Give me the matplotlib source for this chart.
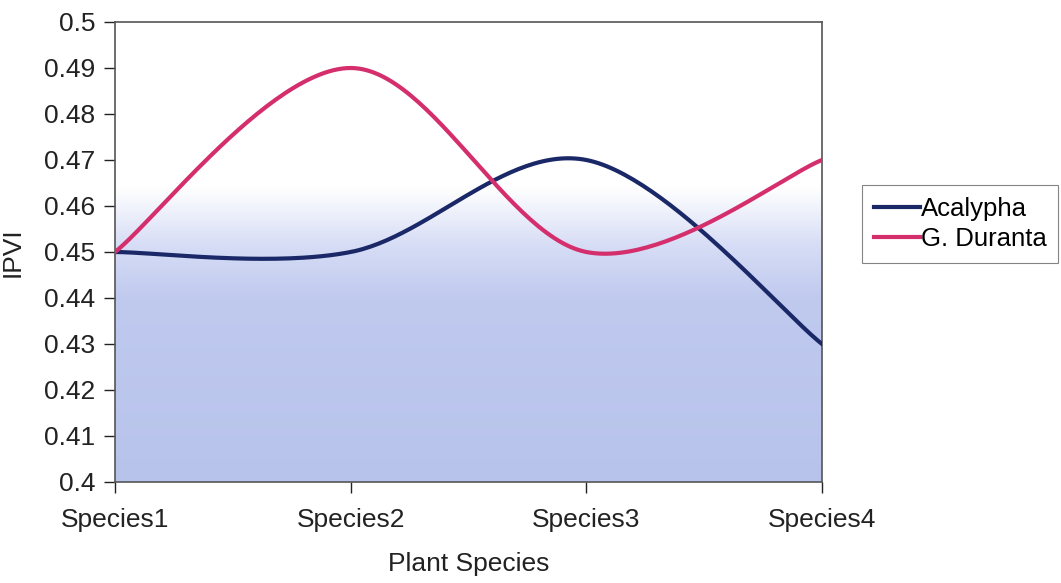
import numpy as np
import matplotlib.pyplot as plt
from matplotlib.colors import LinearSegmentedColormap

plt.rcParams['font.family'] = ['Liberation Sans', 'DejaVu Sans']

categories = ['Species1', 'Species2', 'Species3', 'Species4']
acalypha = [0.45, 0.45, 0.47, 0.43]
duranta = [0.45, 0.49, 0.45, 0.47]


def smooth(ys, n=60):
    # Excel-style smoothed line (Catmull-Rom as cubic bezier)
    x = np.arange(len(ys), dtype=float)
    y = np.array(ys, dtype=float)
    px = np.concatenate([[x[0]], x, [x[-1]]])
    py = np.concatenate([[y[0]], y, [y[-1]]])
    outx, outy = [], []
    t = np.linspace(0, 1, n)
    for i in range(len(ys) - 1):
        p0 = np.array([px[i + 1], py[i + 1]])
        p3 = np.array([px[i + 2], py[i + 2]])
        p1 = p0 + (p3 - np.array([px[i], py[i]])) / 6
        p2 = p3 - (np.array([px[i + 3], py[i + 3]]) - p0) / 6
        b = ((1 - t) ** 3)[:, None] * p0 + (3 * (1 - t) ** 2 * t)[:, None] * p1 \
            + (3 * (1 - t) * t ** 2)[:, None] * p2 + (t ** 3)[:, None] * p3
        outx.extend(b[:, 0])
        outy.extend(b[:, 1])
    return outx, outy


fig = plt.figure(figsize=(10.61, 5.83), dpi=100)
ax = fig.add_axes([115 / 1061, 1 - 482 / 583, 707 / 1061, 460 / 583])

# gradient background
cmap = LinearSegmentedColormap.from_list('bg', [(0, '#b8c3ec'), (0.4, '#c0caef'),
                                                (0.52, '#d8def6'), (0.64, '#ffffff'),
                                                (1, '#ffffff')])
grad = np.linspace(0, 1, 256).reshape(-1, 1)
ax.imshow(grad, cmap=cmap, aspect='auto', origin='lower',
          extent=[0, 3, 0.4, 0.5], zorder=0)

sx, sy = smooth(acalypha)
ax.plot(sx, sy, color='#1a2868', lw=3, label='Acalypha', zorder=3)
sx, sy = smooth(duranta)
ax.plot(sx, sy, color='#d42f6c', lw=3, label='G. Duranta', zorder=3)

ax.set_xlim(0, 3)
ax.set_ylim(0.4, 0.5)
ax.set_yticks(np.arange(0.40, 0.501, 0.01))
ax.set_yticklabels(['0.4', '0.41', '0.42', '0.43', '0.44', '0.45', '0.46',
                    '0.47', '0.48', '0.49', '0.5'])
ax.set_xticks(range(len(categories)))
ax.set_xticklabels(categories)
ax.tick_params(axis='both', labelsize=19, colors='#222222', length=8,
               direction='out', width=1, pad=6)
ax.tick_params(axis='x', pad=11)
for s in ax.spines.values():
    s.set_color('#555555')
    s.set_linewidth(1.2)

ax.set_xlabel('Plant Species', fontsize=19, color='#222222', labelpad=14)
ax.set_ylabel('IPVI', fontsize=19, color='#222222', labelpad=14)

leg = ax.legend(loc='center left', bbox_to_anchor=(862 / 1061, 1 - 224 / 583),
                bbox_transform=fig.transFigure, fontsize=18.5, frameon=True,
                fancybox=False, handlelength=1.8, handletextpad=0.05,
                borderpad=0.45, borderaxespad=0, labelspacing=0.25)
leg.get_frame().set_edgecolor('#666666')
leg.get_frame().set_linewidth(0.8)

fig.savefig('out.png', dpi=100)
